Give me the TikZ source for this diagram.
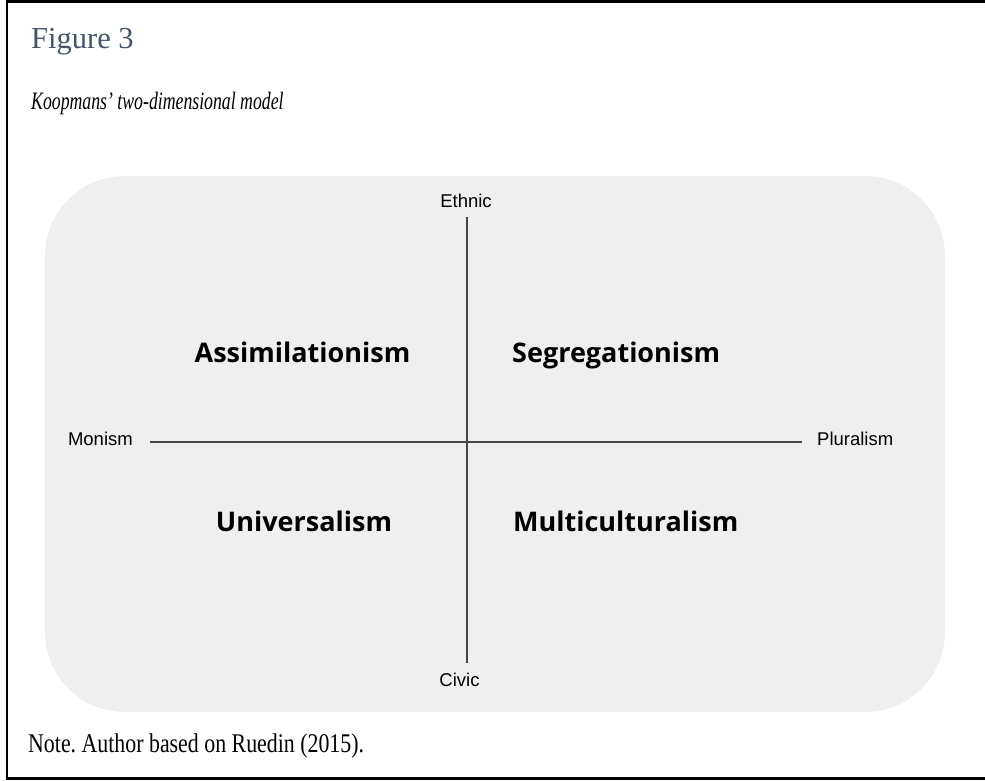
\documentclass[tikz,border=0pt]{standalone}
\usepackage{fontspec}
\setmainfont{Liberation Serif}
\newfontfamily\subtitlefont{Liberation Serif}[FakeStretch=0.71, Ligatures=TeX]
\newfontfamily\notefont{Liberation Serif}[FakeStretch=0.81, Ligatures=TeX]
\newfontfamily\axisfont{Liberation Sans}
\newfontfamily\quadfont{Open Sans}
\usepackage{xcolor}
\definecolor{panelgrey}{HTML}{EFEFEF}
\definecolor{axisgrey}{HTML}{454545}
\definecolor{titleblue}{HTML}{44546A}
\frenchspacing

\begin{document}
\begin{tikzpicture}[x=1pt,y=-1pt]
	\tikzstyle{every node}+=[inner sep=0pt]
	\tikzstyle{axislabel}=[font=\axisfont\fontsize{18.5}{22}\selectfont, text=black]
	\tikzstyle{quadlabel}=[font=\quadfont\bfseries\fontsize{27}{32}\selectfont, text=black]
	\tikzstyle{axisline}=[draw=axisgrey, line width=1.6pt]
	\useasboundingbox (0,0) rectangle (985,780);
	% frame
	\draw [black, line width=2.6pt] (985,1.5) -- (7,1.5) -- (7,778.5) -- (985,778.5);
	% caption
	\node [anchor=base west, text=titleblue, font=\fontsize{30.5}{34}\selectfont] (fig) at (31,48) {Figure 3};
	\node [anchor=base west, font=\subtitlefont\itshape\fontsize{25}{30}\selectfont] (title) at (31,109) {Koopmans’ two-dimensional model};
	% panel
	\fill [panelgrey, rounded corners=80pt] (45,176) rectangle (945,712);
	% axes
	\coordinate (top) at (467,217);
	\coordinate (bottom) at (467,663);
	\coordinate (left) at (150,442);
	\coordinate (right) at (802,442);
	\draw [axisline] (top) -- (bottom);
	\draw [axisline] (left) -- (right);
	\node [axislabel, anchor=base] (ethnic) at (466,207) {Ethnic};
	\node [axislabel, anchor=base] (civic) at (459.5,686) {Civic};
	\node [axislabel, anchor=base east] (monism) at (133,445) {Monism};
	\node [axislabel, anchor=base west] (plural) at (817,445) {Pluralism};
	% quadrants
	\node [quadlabel, anchor=base] (assim) at (302.5,362) {Assimilationism};
	\node [quadlabel, anchor=base west] (segreg) at (512,362) {Segregationism};
	\node [quadlabel, anchor=base] (univ) at (304,531) {Universalism};
	\node [quadlabel, anchor=base west] (multi) at (513,531) {Multiculturalism};
	% note
	\node [anchor=base west, font=\notefont\fontsize{27}{30}\selectfont] (note) at (28,752) {Note. Author based on Ruedin (2015).};
\end{tikzpicture}
\end{document}
